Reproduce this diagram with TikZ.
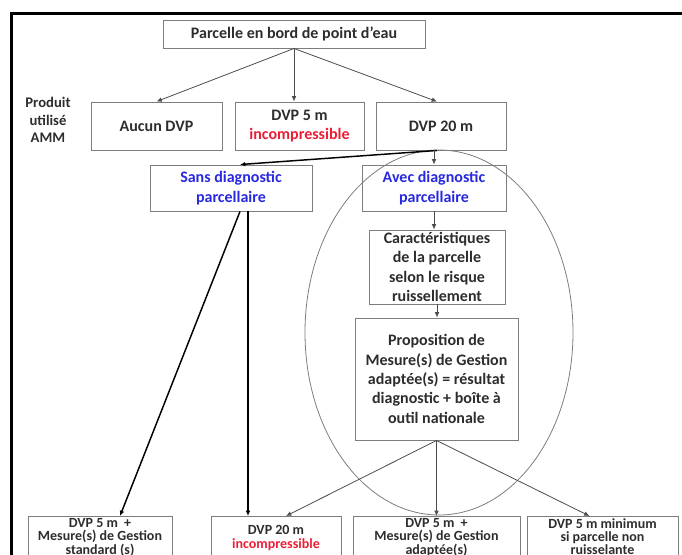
\documentclass[tikz,border=0pt]{standalone}
\usepackage{fontspec}
\setmainfont{Carlito}
\usetikzlibrary{arrows.meta, calc}
\definecolor{boxgray}{RGB}{125,125,125}
\definecolor{txtgray}{RGB}{45,45,45}
\definecolor{diagblue}{RGB}{40,40,225}
\definecolor{incred}{RGB}{235,30,55}

\begin{document}
\begin{tikzpicture}[x=0.75pt, y=-0.75pt,
  box/.style={draw=boxgray, line width=0.7pt, align=center, text=txtgray,
    font=\bfseries\fontsize{12}{14.5}\selectfont, inner sep=0pt},
  basbox/.style={box, anchor=north, inner ysep=1.5pt,
    font=\bfseries\fontsize{10.5}{10}\selectfont},
  sz/.style 2 args={minimum width=#1*0.75pt, minimum height=#2*0.75pt},
  fleche/.style={-{Latex[length=4pt,width=3.5pt]}, draw=black!70, line width=0.6pt},
  grasse/.style={-{Latex[length=4pt,width=3.5pt]}, line width=1.1pt}]
\useasboundingbox (0,0) rectangle (682,554);
\clip (0,0) rectangle (682,554);

% cadre
\draw[line width=2.3pt] (11.5,570) -- (11.5,13.5) -- (700,13.5);

% zone du diagnostic
\draw[boxgray, line width=0.6pt] (439,332.5) ellipse [x radius=134, y radius=182.5];

\node[box, sz={262}{28}] (parcelle) at (294,34) {Parcelle en bord de point d'eau};
\node[align=center, text=txtgray, font=\bfseries\fontsize{11}{13}\selectfont] (produit) at (48,120) {Produit\\utilisé\\AMM};

\node[box, sz={131}{48}] (aucun) at (156.5,126) {Aucun DVP};
\node[box, sz={129}{48}] (dvpcinq) at (299.5,126) {DVP 5 m\\\textcolor{incred}{incompressible}};
\node[box, sz={130}{48}] (dvpvingt) at (441,126) {DVP 20 m};

\node[box, sz={162}{46}, text=diagblue] (sans) at (231,188) {Sans diagnostic\\parcellaire};
\node[box, sz={144}{46}, text=diagblue] (avec) at (434,188) {Avec diagnostic\\parcellaire};
\node[box, sz={136}{74}] (caract) at (437,267) {Caractéristiques\\de la parcelle\\selon le risque\\ruissellement};
\node[box, sz={163}{122}] (propo) at (436.5,379) {Proposition de\\Mesure(s) de Gestion\\adaptée(s) = résultat\\diagnostic + boîte à\\outil nationale};

\node[basbox, minimum width=144*0.75pt] (standard) at (100,516) {DVP 5 m \ +\\Mesure(s) de Gestion\\standard (s)\\\mbox{}};
\node[basbox, minimum width=130*0.75pt, inner ysep=7pt] (vingtinc) at (276,516) {DVP 20 m\\\textcolor{incred}{incompressible}\\\mbox{}};
\node[basbox, minimum width=167*0.75pt] (adaptee) at (436.5,516) {DVP 5 m \ +\\Mesure(s) de Gestion\\adaptée(s)\\\mbox{}};
\node[basbox, minimum width=151*0.75pt] (minimum) at (602.5,516) {DVP 5 m minimum\\si parcelle non\\ruisselante\\\mbox{}};

\coordinate (sansgauche) at ($(sans.south)+(9,0)$);
\coordinate (sansdroite) at ($(sans.south)+(17,0)$);

\draw[fleche] (parcelle.south) -- (aucun.north);
\draw[fleche] (parcelle.south) -- (parcelle.south |- dvpcinq.north);
\draw[fleche] (parcelle.south) -- ($(dvpvingt.north)+(-4,0)$);
\draw[grasse] ($(dvpvingt.south)+(-4,0)$) -- ($(sans.north)+(9,0)$);
\draw[fleche] (avec.north |- dvpvingt.south) -- (avec.north);
\draw[fleche] (avec.south) -- (avec.south |- caract.north);
\draw[fleche] (caract.south) -- (caract.south |- propo.north);
\draw[grasse] (sansgauche) -- ($(standard.north)+(20,0)$);
\draw[grasse] (sansdroite) -- (sansdroite |- vingtinc.north);
\draw[fleche] (propo.south) -- ($(vingtinc.north)+(10,0)$);
\draw[fleche] (propo.south) -- (propo.south |- adaptee.north);
\draw[fleche] (propo.south) -- ($(minimum.north)+(-13,0)$);
\end{tikzpicture}
\end{document}
